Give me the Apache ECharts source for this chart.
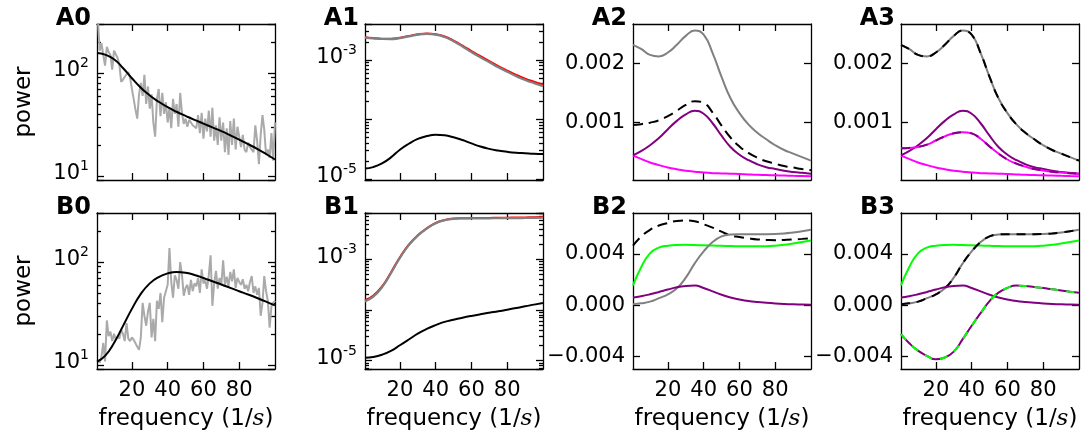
<!DOCTYPE html>
<html><head><meta charset="utf-8">
<script src="https://cdn.jsdelivr.net/npm/echarts@6/dist/echarts.min.js"></script>
<style>html,body{margin:0;padding:0;background:#fff}#c{width:1091px;height:437px}</style>
</head><body><div id="c"></div><script>
// ---------- data ----------
const xTickValues = [20, 40, 60, 80];
const freq = [0.5, 5, 10, 15, 20, 25, 30, 35, 40, 45, 50, 55, 60, 65, 70, 75, 80, 85, 90, 95, 100];
const freqNoisy = [1,2,3,4,5,6,7,8,9,10,11,12,13,14,15,16,17,18,19,20,21,22,23,24,25,26,27,28,29,30,31,32,33,34,35,36,37,38,39,40,41,42,43,44,45,46,47,48,49,50,51,52,53,54,55,56,57,58,59,60,61,62,63,64,65,66,67,68,69,70,71,72,73,74,75,76,77,78,79,80,81,82,83,84,85,86,87,88,89,90,91,92,93,94,95,96,97,98,99,100];

const a0Noisy = [330,165,195,150,118,180,160,150,108,165, 172,140,122,82,86,92,88,102,90,70, 56,44,36,62,80,60,96,50,74,45, 62,33,24,56,70,38,64,40,52,33, 46,29,56,40,50,30,64,41,32,36, 30,35,33,31,30,29,39,26,41,23, 36,27,43,24,46,22,31,20,37,22, 33,17,29,16,34,20,36,18,30,24, 19,25,18,17,21,19,18,17,31,22, 13,25,39,28,16,18,15,26,14,33];
const a0Fit = [157,151,136,112,89,72,60.5,52.5,46.5,42,38.3,35,32.2,29.6,27.2,24.8,22.5,20.3,18.3,16.3,14.4];

const b0Noisy = [11,10.5,12,16.3,10.8,27,19,21,17,20, 17.5,19,18,22,20,17,25.5,18,17,18.5, 17.5,18,15,14,18.5,40,30,24,33,40, 18.5,28,17,42,35,50,26,45,52,60, 137,64,45,74,67,55,100,75,47,56, 60,48,67,52,62,58,70,50,85,62, 66,55,75,116,37.5,62,82,55,70,60, 104,60,72,58,80,65,85,56,70,64, 60,68,55,60,52,64,73,50,58,48, 56,30,40,73,52,42,23,37,40,42];
const b0Fit = [10.7,12.2,16.3,23.8,35,49,62,71.5,77.5,80,78.8,74.8,70,65,60.5,56,52,48.3,44.7,41.2,37.8];

const a1Gray = [2.37e-3,2.3e-3,2.24e-3,2.23e-3,2.32e-3,2.48e-3,2.65e-3,2.73e-3,2.66e-3,2.42e-3,2.05e-3,1.68e-3,1.35e-3,1.1e-3,9.1e-4,7.5e-4,6.3e-4,5.3e-4,4.6e-4,4.05e-4,3.6e-4];
const a1Red = [2.4e-3,2.33e-3,2.27e-3,2.26e-3,2.35e-3,2.51e-3,2.68e-3,2.76e-3,2.7e-3,2.47e-3,2.1e-3,1.73e-3,1.4e-3,1.15e-3,9.5e-4,7.85e-4,6.6e-4,5.6e-4,4.85e-4,4.3e-4,3.85e-4];
const a1Black = [1.5e-5,1.58e-5,1.82e-5,2.3e-5,3.1e-5,3.9e-5,4.7e-5,5.25e-5,5.5e-5,5.4e-5,5e-5,4.5e-5,3.95e-5,3.5e-5,3.2e-5,3e-5,2.85e-5,2.75e-5,2.7e-5,2.65e-5,2.62e-5];

const b1Gray = [1.47e-4,1.8e-4,2.8e-4,5.3e-4,1.06e-3,1.9e-3,2.93e-3,4.02e-3,5.15e-3,5.9e-3,6.3e-3,6.4e-3,6.42e-3,6.44e-3,6.45e-3,6.46e-3,6.48e-3,6.5e-3,6.53e-3,6.56e-3,6.6e-3];
const b1Red = [1.55e-4,1.9e-4,2.9e-4,5.5e-4,1.1e-3,1.95e-3,2.98e-3,4.07e-3,5.2e-3,5.95e-3,6.35e-3,6.45e-3,6.5e-3,6.53e-3,6.56e-3,6.6e-3,6.63e-3,6.67e-3,6.7e-3,6.75e-3,6.8e-3];
const b1Black = [1.13e-5,1.17e-5,1.3e-5,1.55e-5,2e-5,2.6e-5,3.4e-5,4.2e-5,5e-5,5.8e-5,6.4e-5,7e-5,7.6e-5,8.2e-5,8.8e-5,9.4e-5,1.01e-4,1.09e-4,1.18e-4,1.27e-4,1.37e-4];

const aTotal = [2.31e-3,2.24e-3,2.14e-3,2.115e-3,2.18e-3,2.31e-3,2.46e-3,2.55e-3,2.48e-3,2.17e-3,1.77e-3,1.41e-3,1.16e-3,0.97e-3,0.83e-3,0.72e-3,0.62e-3,0.54e-3,0.48e-3,0.42e-3,0.36e-3];
const a2Dashed = [0.96e-3,0.975e-3,1.0e-3,1.04e-3,1.11e-3,1.2e-3,1.3e-3,1.36e-3,1.33e-3,1.17e-3,0.95e-3,0.75e-3,0.6e-3,0.49e-3,0.41e-3,0.35e-3,0.31e-3,0.27e-3,0.245e-3,0.22e-3,0.2e-3];
const aPurple = [0.45e-3,0.52e-3,0.62e-3,0.74e-3,0.89e-3,1.03e-3,1.14e-3,1.2e-3,1.15e-3,0.99e-3,0.78e-3,0.59e-3,0.46e-3,0.37e-3,0.3e-3,0.25e-3,0.22e-3,0.19e-3,0.17e-3,0.155e-3,0.14e-3];
const aMagenta = [0.445e-3,0.39e-3,0.33e-3,0.285e-3,0.245e-3,0.215e-3,0.19e-3,0.175e-3,0.16e-3,0.15e-3,0.145e-3,0.14e-3,0.135e-3,0.128e-3,0.122e-3,0.118e-3,0.114e-3,0.11e-3,0.106e-3,0.103e-3,0.1e-3];
const a3Mixed = [0.57e-3,0.575e-3,0.59e-3,0.63e-3,0.7e-3,0.77e-3,0.82e-3,0.84e-3,0.82e-3,0.73e-3,0.6e-3,0.48e-3,0.38e-3,0.31e-3,0.26e-3,0.22e-3,0.195e-3,0.175e-3,0.16e-3,0.15e-3,0.14e-3];

const b2Dashed = [4.65e-3,5.35e-3,5.88e-3,6.22e-3,6.42e-3,6.58e-3,6.62e-3,6.55e-3,6.32e-3,6.06e-3,5.74e-3,5.45e-3,5.32e-3,5.22e-3,5.14e-3,5.1e-3,5.08e-3,5.1e-3,5.13e-3,5.18e-3,5.24e-3];
const bGreen = [1.55e-3,2.95e-3,4.05e-3,4.5e-3,4.65e-3,4.71e-3,4.72e-3,4.7e-3,4.68e-3,4.66e-3,4.64e-3,4.62e-3,4.61e-3,4.6e-3,4.6e-3,4.61e-3,4.65e-3,4.72e-3,4.82e-3,4.93e-3,5.05e-3];
const bTotal = [0.08e-3,0.15e-3,0.28e-3,0.55e-3,0.85e-3,1.32e-3,2.15e-3,3.27e-3,4.2e-3,4.93e-3,5.37e-3,5.52e-3,5.55e-3,5.55e-3,5.55e-3,5.55e-3,5.56e-3,5.6e-3,5.68e-3,5.78e-3,5.9e-3];
const bPurple = [0.6e-3,0.7e-3,0.85e-3,1.03e-3,1.22e-3,1.4e-3,1.5e-3,1.53e-3,1.35e-3,1.08e-3,0.82e-3,0.6e-3,0.45e-3,0.33e-3,0.25e-3,0.19e-3,0.14e-3,0.1e-3,0.07e-3,0.05e-3,0.03e-3];
const b3Cross = [-2.25e-3,-2.95e-3,-3.55e-3,-3.95e-3,-4.22e-3,-4.08e-3,-3.62e-3,-2.65e-3,-1.6e-3,-0.62e-3,0.32e-3,0.98e-3,1.35e-3,1.53e-3,1.5e-3,1.42e-3,1.34e-3,1.24e-3,1.15e-3,1.06e-3,0.98e-3];

const linTicksA = [0.001, 0.002];
const linTicksB = [-0.004, 0, 0.004];

// ---------- layout / style ----------
const FONT = "'DejaVu Sans', sans-serif";
const X_MIN = 0.5, X_MAX = 100;
const GRID_W = 178, GRID_H = 156;
const colLeft = [97, 365, 633, 901], rowTop = [24, 213];
const BLACK = '#000000', GRAY = '#808080', LGRAY = '#aaaaaa', RED = '#ff0000',
      PURPLE = '#800080', MAGENTA = '#ff00ff', GREEN = '#00ff00';
const DASH = [10, 6];

function S(xs, ys, color, width, opts) {
  return Object.assign({ xs, ys, color, width }, opts || {});
}

const panels = [
  { title: 'A0', col: 0, row: 0, log: true, min: 9.1, max: 300, exps: [1, 2], series: [
      S(freqNoisy, a0Noisy, LGRAY, 2, { raw: true }),
      S(freq, a0Fit, BLACK, 2) ] },
  { title: 'A1', col: 1, row: 0, log: true, min: 9.6e-6, max: 4e-3, exps: [-5, -3], series: [
      S(freq, a1Red, RED, 2),
      S(freq, a1Gray, GRAY, 2.2),
      S(freq, a1Black, BLACK, 2) ] },
  { title: 'A2', col: 2, row: 0, log: false, min: 0.000035, max: 0.00266, ticks: linTicksA, series: [
      S(freq, aTotal, GRAY, 2),
      S(freq, a2Dashed, BLACK, 2, { dash: DASH }),
      S(freq, aMagenta, MAGENTA, 2),
      S(freq, aPurple, PURPLE, 2) ] },
  { title: 'A3', col: 3, row: 0, log: false, min: 0.000035, max: 0.00266, ticks: linTicksA, series: [
      S(freq, aTotal, GRAY, 2),
      S(freq, aTotal, BLACK, 2, { dash: [9, 7] }),
      S(freq, aMagenta, MAGENTA, 2),
      S(freq, aPurple, PURPLE, 2),
      S(freq, a3Mixed, MAGENTA, 2),
      S(freq, a3Mixed, PURPLE, 2, { dash: [9, 9] }) ] },
  { title: 'B0', col: 0, row: 1, log: true, min: 9.1, max: 300, exps: [1, 2], series: [
      S(freqNoisy, b0Noisy, LGRAY, 2, { raw: true }),
      S(freq, b0Fit, BLACK, 2) ] },
  { title: 'B1', col: 1, row: 1, log: true, min: 6.8e-6, max: 8.2e-3, exps: [-5, -3], series: [
      S(freq, b1Red, RED, 2),
      S(freq, b1Gray, GRAY, 2.2),
      S(freq, b1Black, BLACK, 2) ] },
  { title: 'B2', col: 2, row: 1, log: false, min: -0.00498, max: 0.0072, ticks: linTicksB, series: [
      S(freq, b2Dashed, BLACK, 2, { dash: DASH }),
      S(freq, bGreen, GREEN, 2),
      S(freq, bTotal, GRAY, 2),
      S(freq, bPurple, PURPLE, 2) ] },
  { title: 'B3', col: 3, row: 1, log: false, min: -0.00498, max: 0.0072, ticks: linTicksB, series: [
      S(freq, bGreen, GREEN, 2),
      S(freq, bTotal, GRAY, 2),
      S(freq, bTotal, BLACK, 2, { dash: [9, 7] }),
      S(freq, bPurple, PURPLE, 2),
      S(freq, b3Cross, PURPLE, 2),
      S(freq, b3Cross, GREEN, 2, { dash: [8, 8] }) ] }
];

const lineStyle = { color: '#000', width: 1.3 };
const tickLabelStyle = { fontFamily: FONT, fontSize: 21, color: '#000' };
const supRich = {
  m: { fontFamily: FONT, fontSize: 21, lineHeight: 21, color: '#000', verticalAlign: 'bottom' },
  s: { fontFamily: FONT, fontSize: 14, lineHeight: 14, color: '#000', verticalAlign: 'bottom', padding: [0, 0, 11, 0] }
};

function logFormatter(exps) {
  return function (v) {
    const e = Math.log10(v), r = Math.round(e);
    if (Math.abs(e - r) > 1e-6 || exps.indexOf(r) < 0) return '';
    return '{m|10}{s|' + r + '}';
  };
}
function linFormatter(v) {
  const t = Math.abs(v).toFixed(3);
  return v < -1e-12 ? '\u2212' + t : t;
}
function minorLogTicks(lo, hi) {
  const out = [];
  for (let e = Math.floor(Math.log10(lo)); e <= Math.ceil(Math.log10(hi)); e++) {
    for (let k = 2; k <= 9; k++) {
      const v = k * Math.pow(10, e);
      if (v > lo && v < hi) out.push(Math.log10(v));
    }
  }
  return out;
}

const grid = [], xAxis = [], yAxis = [], series = [], title = [];

panels.forEach((p, gi) => {
  const left = colLeft[p.col], top = rowTop[p.row];
  grid.push({ left, top, width: GRID_W, height: GRID_H, containLabel: false, outerBoundsMode: 'none' });
  title.push({ text: p.title, right: 1091 - left + 6, top: top - 17, padding: 0,
    textStyle: { fontFamily: FONT, fontSize: 24, fontWeight: 'bold', color: '#000' } });

  const xi = xAxis.length;
  const xBase = { gridIndex: gi, type: 'value', min: X_MIN, max: X_MAX,
    axisLine: { show: true, onZero: false, lineStyle },
    axisTick: { show: true, inside: true, length: 7, customValues: xTickValues, lineStyle },
    splitLine: { show: false } };
  const xb = Object.assign({}, xBase, { position: 'bottom',
    axisLabel: { show: p.row === 1, customValues: xTickValues, margin: 11, ...tickLabelStyle } });
  if (p.row === 1) {
    Object.assign(xb, { name: '{a|frequency (1/}{i|s}{a|)}', nameLocation: 'middle', nameGap: 39,
      nameMoveOverlap: false,
      nameTextStyle: { fontFamily: FONT, fontSize: 23, color: '#000', rich: {
        a: { fontFamily: FONT, fontSize: 23, color: '#000' },
        i: { fontFamily: "'DejaVu Serif', serif", fontStyle: 'italic', fontSize: 23, color: '#000' } } } });
  }
  xAxis.push(xb);
  xAxis.push(Object.assign({}, xBase, { position: 'top', axisLabel: { show: false } }));

  const yi = yAxis.length;
  let yMain, yRight;
  if (p.log) {
    const yBase = { gridIndex: gi, type: 'log', logBase: 10, min: p.min, max: p.max,
      axisLine: { show: true, onZero: false, lineStyle },
      axisTick: { show: true, inside: true, length: 7, lineStyle },
      splitLine: { show: false }, minorTick: { show: false }, minorSplitLine: { show: false } };
    yMain = Object.assign({}, yBase, { position: 'left',
      axisLabel: { formatter: logFormatter(p.exps), rich: supRich, margin: 8, padding: [0, 0, 4, 0], ...tickLabelStyle } });
    yRight = Object.assign({}, yBase, { position: 'right', axisLabel: { show: false } });
  } else {
    const yBase = { gridIndex: gi, type: 'value', min: p.min, max: p.max,
      axisLine: { show: true, onZero: false, lineStyle },
      axisTick: { show: true, inside: true, length: 7, customValues: p.ticks, lineStyle },
      splitLine: { show: false } };
    yMain = Object.assign({}, yBase, { position: 'left',
      axisLabel: { customValues: p.ticks, formatter: linFormatter, margin: 8, ...tickLabelStyle } });
    yRight = Object.assign({}, yBase, { position: 'right', axisLabel: { show: false } });
  }
  if (p.col === 0) {
    Object.assign(yMain, { name: 'power', nameLocation: 'middle', nameRotate: 90, nameGap: 61,
      nameMoveOverlap: false,
      nameTextStyle: { fontFamily: FONT, fontSize: 23, color: '#000' } });
  }
  yAxis.push(yMain, yRight);
  if (p.log) {
    const minors = minorLogTicks(p.min, p.max);
    ['left', 'right'].forEach(pos => yAxis.push({ gridIndex: gi, type: 'value', position: pos,
      min: Math.log10(p.min), max: Math.log10(p.max),
      axisLine: { show: false, onZero: false }, axisLabel: { show: false }, splitLine: { show: false },
      axisTick: { show: true, inside: true, length: 4, customValues: minors, lineStyle } }));
  }

  p.series.forEach((s, k) => {
    series.push({ type: 'line', xAxisIndex: xi, yAxisIndex: yi,
      data: s.xs.map((x, j) => [x, s.ys[j]]),
      showSymbol: false, symbol: 'none', smooth: s.raw ? false : 0.5,
      lineStyle: { color: s.color, width: s.width, type: s.dash || 'solid', cap: 'butt' },
      z: 2 + k, silent: true, animation: false, clip: true });
  });
});

const chart = echarts.init(document.getElementById('c'), null, { renderer: 'canvas' });
chart.setOption({ backgroundColor: '#fff', animation: false, title, grid, xAxis, yAxis, series });
</script></body></html>
